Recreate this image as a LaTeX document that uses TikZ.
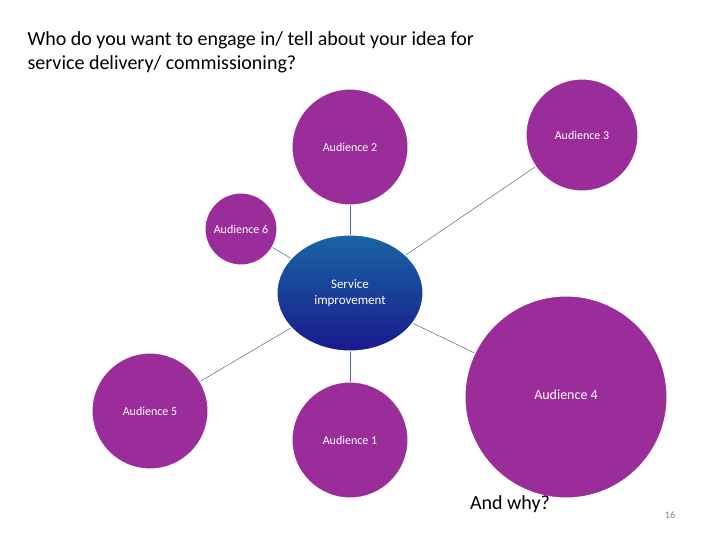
\documentclass[tikz,border=0pt]{standalone}
\usepackage{fontspec}
\setmainfont{Carlito}
\usetikzlibrary{shapes.geometric}
\definecolor{aud}{HTML}{9B2D9B}
\definecolor{ln}{HTML}{4A6A8A}
\begin{document}
\begin{tikzpicture}[x=1pt,y=-1pt,
  aud/.style={circle,fill=aud,draw=white,line width=1pt,minimum size=#1,inner sep=0pt,text=white,font=\fontsize{12}{14}\selectfont},
  con/.style={draw=ln,line width=0.5pt}]
\useasboundingbox (0,0) rectangle (720,540);
\node[anchor=west,font=\fontsize{20}{24}\selectfont,align=left] (t) at (24,52) {Who do you want to engage in/ tell about your idea for\\ service delivery/ commissioning?};
\coordinate (c) at (350,293);
\coordinate (p2) at (350,147);\coordinate (p3) at (582,135);\coordinate (p6) at (241,229);
\coordinate (p5) at (150,411);\coordinate (p1) at (350,440);\coordinate (p4) at (566,397);
\foreach \p in {p2,p3,p6,p5,p1,p4} \draw[con] (c) -- (\p);
\node[aud=116pt] (a2) at (p2) {Audience 2};
\node[aud=112pt] (a3) at (p3) {Audience 3};
\node[aud=72pt] (a6) at (p6) {Audience 6};
\node[aud=116pt] (a5) at (p5) {Audience 5};
\node[aud=116pt] (a1) at (p1) {Audience 1};
\node[aud=202pt,font=\fontsize{14}{16}\selectfont] (a4) at (p4) {\raisebox{5pt}{Audience 4}};
\node[ellipse,minimum width=146pt,minimum height=116pt,draw=white,line width=1pt,
  top color=blue!45!cyan!60!black!90,bottom color=blue!50!black!90,
  text=white,align=center,font=\fontsize{13}{16}\selectfont] (s) at (c) {Service\\improvement};
\node[font=\fontsize{20}{24}\selectfont] (w) at (510,504) {And why?};
\node[font=\fontsize{10}{12}\selectfont,text=gray] (n) at (670,515) {16};
\end{tikzpicture}
\end{document}
